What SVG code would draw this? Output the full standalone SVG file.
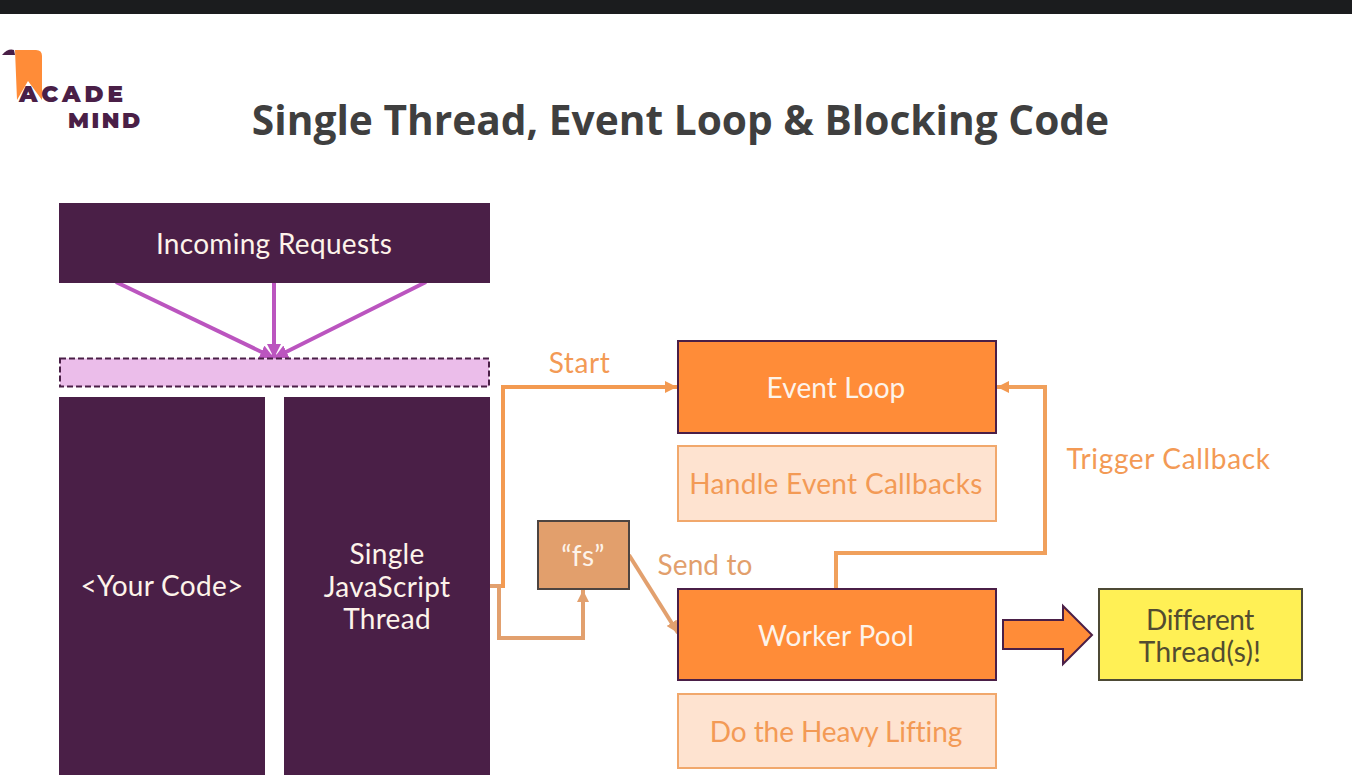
<svg xmlns="http://www.w3.org/2000/svg" width="1352" height="777" viewBox="0 0 1352 777">
<style>
text{font-family:"Lato","Noto Sans",sans-serif;font-size:28px;letter-spacing:.3px;text-anchor:middle}
.w{fill:#fdf3ea}
.o{fill:#f39a55}
.t{fill:#e29f6c}
.dark{fill:#4a1f47}
.or{fill:#ff8c38;stroke:#4a1f47;stroke-width:2}
.light{fill:#fee3d0;stroke:#f1a86c;stroke-width:2}
.cn{fill:none;stroke-width:4}
.logo{font-family:"Montserrat","Lato",sans-serif;font-weight:900;font-size:23px;fill:#4a1f47;text-anchor:start}
</style>
<defs>
<marker id="mp" markerUnits="userSpaceOnUse" markerWidth="16" markerHeight="14" refX="14" refY="7" orient="auto"><path d="M0 0L14 7L0 14Z" fill="#bb55bf"/></marker>
<marker id="mo" markerUnits="userSpaceOnUse" markerWidth="14" markerHeight="12" refX="12" refY="6" orient="auto"><path d="M0 0L12 6L0 12Z" fill="#f39a51"/></marker>
<marker id="mt" markerUnits="userSpaceOnUse" markerWidth="14" markerHeight="12" refX="12" refY="6" orient="auto"><path d="M0 0L12 6L0 12Z" fill="#e2a06e"/></marker>
</defs>
<rect width="1352" height="777" fill="#fff"/>
<rect id="topbar" width="1352" height="14" fill="#1b1c1e"/>
<g id="logo">
<path d="M15 50H36Q42 50 42 56V100L28 81L17 100Z" fill="#ff8c38"/>
<path d="M2 55Q8 48 14 50L15 55Z" fill="#4a1f47"/>
<text class="logo" x="19" y="102" style="font-size:23px;letter-spacing:4px">ACADE</text>
<text class="logo" x="68" y="128" style="font-size:22px;letter-spacing:2.500px">MIND</text>
</g>
<text id="title" x="680.500" y="135" style="font-family:'Open Sans',sans-serif;font-weight:700;font-size:40.700px;letter-spacing:0;fill:#3f3f3f">Single Thread, Event Loop &amp; Blocking Code</text>
<g id="connectors">
<path class="cn" stroke="#f39a51" marker-end="url(#mo)" d="M490 586H503V387H677"/>
<path class="cn" stroke="#f0a05c" marker-end="url(#mo)" d="M836 589V553H1045V387H997"/>
<path class="cn" stroke="#e2a06e" marker-end="url(#mt)" d="M490 586H499V638H583V590"/>
<path class="cn" stroke="#e2a06e" marker-end="url(#mt)" d="M629 555L678 633"/>
<path class="cn" stroke="#bb55bf" marker-end="url(#mp)" d="M116 282L274 358"/>
<path class="cn" stroke="#bb55bf" marker-end="url(#mp)" d="M274 282V358"/>
<path class="cn" stroke="#bb55bf" marker-end="url(#mp)" d="M426 282L274 358"/>
</g>
<g id="requests"><rect x="59" y="203" width="431" height="80" class="dark"/><text class="w" x="274" y="253.500">Incoming Requests</text></g>
<g id="queue"><rect x="60" y="358.500" width="429" height="28" fill="#ebbdea" stroke="#4a1f47" stroke-width="2" stroke-dasharray="6 3"/></g>
<g id="your-code"><rect x="59" y="397" width="206" height="378" class="dark"/><text class="w" x="162" y="595.500">&lt;Your Code&gt;</text></g>
<g id="thread"><rect x="284" y="397" width="206" height="378" class="dark"/><text class="w" x="387" y="563.500">Single</text><text class="w" x="387" y="596.500">JavaScript</text><text class="w" x="387" y="628.500">Thread</text></g>
<g id="event-loop"><rect x="678" y="341" width="318" height="92" class="or"/><text class="w" x="836" y="397.500" style="letter-spacing:.1px">Event Loop</text></g>
<g id="callbacks"><rect x="678" y="446" width="318" height="75" class="light"/><text class="o" x="836" y="493.500">Handle Event Callbacks</text></g>
<g id="fs"><rect x="538" y="521" width="91" height="68" fill="#e29f6c" stroke="#4d4440" stroke-width="2"/><text class="w" x="583" y="565.500">“fs”</text></g>
<g id="worker-pool"><rect x="678" y="589" width="318" height="91" class="or"/><text class="w" x="836" y="645.500">Worker Pool</text></g>
<g id="heavy"><rect x="678" y="694" width="318" height="74" class="light"/><text class="o" x="836" y="741.500" style="letter-spacing:-.1px">Do the Heavy Lifting</text></g>
<g id="threads"><rect x="1099" y="589" width="203" height="91" fill="#fff055" stroke="#4d4a35" stroke-width="2"/><text x="1200" y="629.500" fill="#524c30" style="letter-spacing:-.4px">Different</text><text x="1200" y="661.500" fill="#524c30">Thread(s)!</text></g>
<path id="big-arrow" d="M1003 620H1063V606L1092 635L1063 664V649H1003Z" fill="#ff8c38" stroke="#4a1f47" stroke-width="2"/>
<text class="o" x="579.500" y="372.500" style="letter-spacing:.6px">Start</text>
<text class="o" x="1168.500" y="468.500" style="letter-spacing:.65px">Trigger Callback</text>
<text class="t" x="705" y="574.500" style="letter-spacing:.1px">Send to</text>
</svg>
